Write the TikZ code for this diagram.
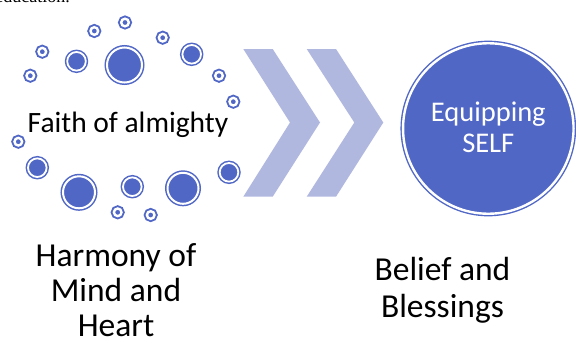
\documentclass[tikz,border=0pt]{standalone}
\usepackage{fontspec}
\setmainfont{Carlito}
\newfontfamily\seriffont{Liberation Serif}
\definecolor{cblue}{RGB}{80,103,198}
\definecolor{cchev}{RGB}{177,184,224}
\tikzset{
  dotS/.style={circle, inner sep=0pt, outer sep=0pt, minimum size=7.6pt, fill=cblue, draw=cblue, double=white, double distance=2.4pt, line width=1.9pt},
  dotM/.style={circle, inner sep=0pt, outer sep=0pt, minimum size=18.6pt, fill=cblue, draw=cblue, double=white, double distance=1.8pt, line width=1.5pt},
  dotL/.style={circle, inner sep=0pt, outer sep=0pt, minimum size=#1, fill=cblue, draw=cblue, double=white, double distance=2pt, line width=1.5pt},
  chev/.style={fill=cchev, draw=none},
  lbl/.style={align=center, text=black, inner sep=0pt},
}
\begin{document}
\begin{tikzpicture}[x=1pt,y=-1pt]
\useasboundingbox (0,0) rectangle (576,354);
\fill[white] (0,0) rectangle (576,354);
% cut-off text fragment at the very top
\begin{scope}
\clip (0,0) rectangle (576,354);
\node[anchor=base east, inner sep=0pt, font=\seriffont\fontsize{18}{20}\selectfont] (frag) at (70,2.2) {education.};
\end{scope}
% ring of dots
\node[dotS] (s1) at (125,22.5) {};
\node[dotS] (s2) at (94.3,31) {};
\node[dotS] (s3) at (162.7,37.7) {};
\node[dotS] (s4) at (42.3,51.7) {};
\node[dotS] (s5) at (30.3,75.7) {};
\node[dotS] (s6) at (219,75.7) {};
\node[dotS] (s7) at (233.3,101.7) {};
\node[dotS] (s8) at (18.3,141.7) {};
\node[dotS] (s9) at (117.7,212.3) {};
\node[dotS] (s10) at (150.7,215) {};
\node[dotM] (m1) at (76.5,61.3) {};
\node[dotM] (m2) at (191.7,54.3) {};
\node[dotM] (m3) at (37.3,167.7) {};
\node[dotM] (m4) at (132.3,186.7) {};
\node[dotM] (m5) at (229,172.3) {};
\node[dotL=35pt] (l1) at (124.5,65) {};
\node[dotL=32pt] (l2) at (79,192.3) {};
\node[dotL=31pt] (l3) at (183,188.3) {};
\node[lbl, font=\fontsize{29.5}{31}\selectfont] (faith) at (128,124.5) {Faith of almighty};
% chevrons
\fill[chev] (243.3,49) -- (272.7,49) -- (320,122.5) -- (272.7,196.7) -- (243.3,196.7) -- (290,122.5) -- cycle;
\fill[chev] (306.7,49) -- (336,49) -- (383.3,122.5) -- (336,196.7) -- (306.7,196.7) -- (354.3,122.5) -- cycle;
% big circle
\node[circle, inner sep=0pt, outer sep=0pt, minimum size=170.5pt, fill=cblue, draw=cblue, double=white, double distance=2.4pt, line width=1.4pt] (self) at (488.3,128.5) {};
\node[lbl, text=white, font=\fontsize{28.5}{31}\selectfont] (eq) at (488.3,127) {Equipping\\SELF};
% bottom labels
\node[lbl, font=\fontsize{33.5}{35}\selectfont] (harm) at (116,290) {Harmony of\\Mind and\\Heart};
\node[lbl, font=\fontsize{33.5}{37.5}\selectfont] (bel) at (442.5,290) {Belief and\\Blessings};
\end{tikzpicture}
\end{document}
